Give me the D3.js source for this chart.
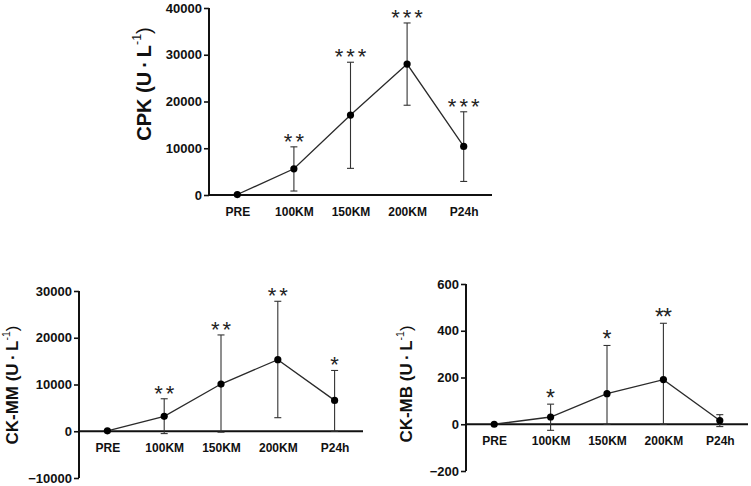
<!DOCTYPE html>
<html>
<head>
<meta charset="utf-8">
<script src="https://cdn.jsdelivr.net/npm/d3@7"></script>
<style>
  html, body { margin: 0; padding: 0; background: #fff; }
  svg { display: block; }
  text { font-family: "Liberation Sans", Arial, sans-serif; }
</style>
</head>
<body>
<svg id="chart" width="751" height="486"></svg>
<script>
// ---- data ----
const categories = ["PRE", "100KM", "150KM", "200KM", "P24h"];

const cpkMean  = [100, 5600, 17100, 28000, 10400];
const cpkUpper = [150, 10300, 28400, 36800, 17800];
const cpkLower = [50, 850, 5700, 19200, 2900];
const cpkStars = ["", "**", "***", "***", "***"];
const cpkTicks = [0, 10000, 20000, 30000, 40000];

const mmMean  = [100, 3200, 10100, 15300, 6600];
const mmUpper = [150, 6950, 20600, 27800, 13000];
const mmLower = [50, -500, -200, 2900, 0];
const mmStars = ["", "**", "**", "**", "*"];
const mmTicks = [-10000, 0, 10000, 20000, 30000];

const mbMean  = [0, 31, 131, 191, 16];
const mbUpper = [0, 86, 337, 432, 41];
const mbLower = [0, -26, 0, 0, -10];
const mbStars = ["", "*", "*", "**", ""];
const mbTicks = [-200, 0, 200, 400, 600];

// ---- layout ----
const panels = [
  { label: "CPK", mean: cpkMean, upper: cpkUpper, lower: cpkLower, stars: cpkStars, ticks: cpkTicks,
    domain: [0, 40000], x0: 209, x1: 492, yTop: 8, yBot: 195, labelX: 146, labelY: 84, labelSize: 20, starSpacing: 3, starSize: 22 },
  { label: "CK-MM", mean: mmMean, upper: mmUpper, lower: mmLower, stars: mmStars, ticks: mmTicks,
    domain: [-10000, 30000], x0: 79, x1: 363, yTop: 291, yBot: 478, labelX: 14, labelY: 385, labelSize: 17, starSpacing: 3, starSize: 22 },
  { label: "CK-MB", mean: mbMean, upper: mbUpper, lower: mbLower, stars: mbStars, ticks: mbTicks,
    domain: [-200, 600], x0: 466, x1: 748, yTop: 284, yBot: 471, labelX: 408, labelY: 384, labelSize: 17, starSpacing: -1, starSize: 23 }
];

const svg = d3.select("#chart");

panels.forEach(p => {
  const g = svg.append("g");
  const x = d3.scalePoint().domain(categories).range([p.x0, p.x1]).padding(0.5);
  const y = d3.scaleLinear().domain(p.domain).range([p.yBot, p.yTop]);

  // y axis
  const yAxis = d3.axisLeft(y).tickValues(p.ticks).tickSize(5).tickPadding(2).tickFormat(d3.format("d"));
  const ya = g.append("g").attr("transform", `translate(${p.x0},0)`).call(yAxis);
  ya.select(".domain").attr("stroke", "#111").attr("stroke-width", 2).attr("d", `M0,${p.yTop}V${p.yBot}`);
  ya.selectAll(".tick line").attr("stroke", "#111").attr("stroke-width", 1.6);
  ya.selectAll(".tick text").attr("font-size", 13).attr("font-weight", "bold").attr("fill", "#111")
    .attr("font-family", "'Liberation Sans', Arial, sans-serif");

  // x axis at zero
  const xa = g.append("g").attr("transform", `translate(0,${y(0)})`)
    .call(d3.axisBottom(x).tickSize(0).tickPadding(12));
  xa.select(".domain").attr("stroke", "#111").attr("stroke-width", 2).attr("d", `M${p.x0},0H${p.x1}`);
  xa.selectAll(".tick text").attr("font-size", 12).attr("font-weight", "bold").attr("fill", "#111")
    .attr("font-family", "'Liberation Sans', Arial, sans-serif");

  const data = categories.map((c, i) => ({ c, m: p.mean[i], u: p.upper[i], l: p.lower[i], s: p.stars[i] }));

  // error bars
  const eb = g.append("g").attr("stroke", "#333").attr("stroke-width", 1.1).attr("fill", "none");
  data.forEach(d => {
    if (d.u === d.l) return;
    const cx = x(d.c);
    eb.append("line").attr("x1", cx).attr("x2", cx).attr("y1", y(d.u)).attr("y2", y(d.l));
    eb.append("line").attr("x1", cx - 3.5).attr("x2", cx + 3.5).attr("y1", y(d.u)).attr("y2", y(d.u));
    eb.append("line").attr("x1", cx - 3.5).attr("x2", cx + 3.5).attr("y1", y(d.l)).attr("y2", y(d.l));
  });

  // line
  g.append("path").datum(data)
    .attr("fill", "none").attr("stroke", "#2a2a2a").attr("stroke-width", 1.3)
    .attr("d", d3.line().x(d => x(d.c)).y(d => y(d.m)));

  // points
  g.selectAll("circle.pt").data(data).join("circle")
    .attr("cx", d => x(d.c)).attr("cy", d => y(d.m)).attr("r", 3.6).attr("fill", "#000");

  // stars
  g.selectAll("text.star").data(data.filter(d => d.s)).join("text")
    .attr("class", "star")
    .attr("x", d => x(d.c) + p.starSpacing / 2).attr("y", d => y(d.u) + 2)
    .attr("text-anchor", "middle").attr("font-size", p.starSize).attr("fill", "#222")
    .attr("letter-spacing", p.starSpacing)
    .text(d => d.s);

  // y label
  const lab = g.append("text")
    .attr("transform", `translate(${p.labelX},${p.labelY}) rotate(-90)`)
    .attr("text-anchor", "middle").attr("dominant-baseline", "middle")
    .attr("font-size", p.labelSize).attr("font-weight", "bold").attr("fill", "#111");
  lab.append("tspan").text(p.label + " (U\u2009\u00B7\u2009L");
  lab.append("tspan").attr("font-size", p.labelSize * 0.62).attr("dy", -p.labelSize * 0.4).attr("font-weight", "normal").text("-1");
  lab.append("tspan").attr("dy", p.labelSize * 0.4).attr("font-weight", "normal").text(")");
});
</script>
</body>
</html>
